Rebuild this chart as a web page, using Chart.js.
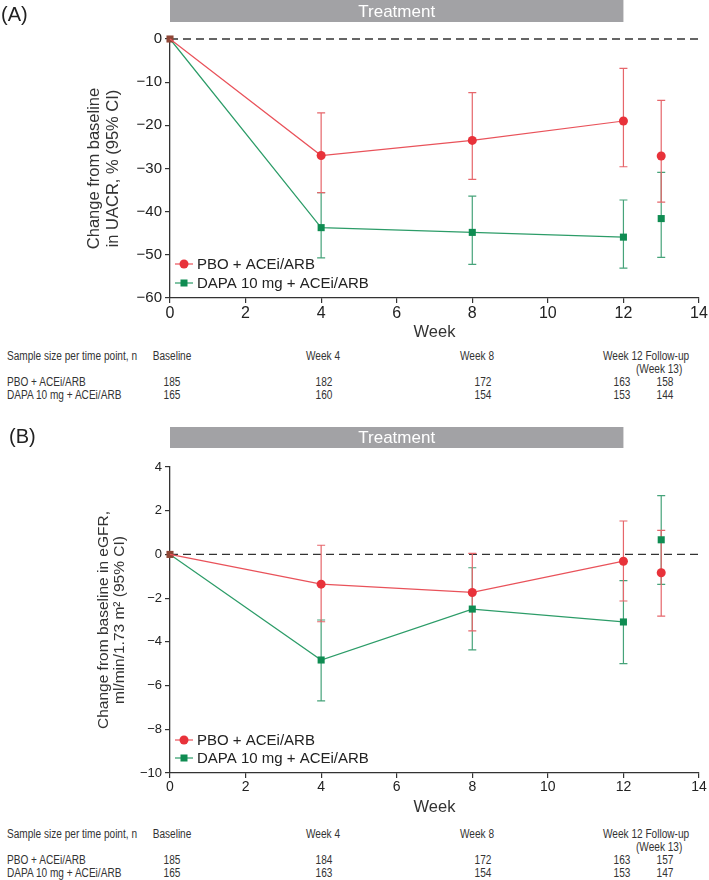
<!DOCTYPE html>
<html>
<head>
<meta charset="utf-8">
<script src="https://cdn.jsdelivr.net/npm/chart.js@4/dist/chart.umd.min.js"></script>
<style>
body { margin: 0; background: #fff; width: 709px; height: 880px; position: relative; overflow: hidden; font-family: "Liberation Sans", Arial, sans-serif; }
.box { position: absolute; left: 0; width: 709px; }
#boxA { top: 0; height: 345px; }
#boxB { top: 420px; height: 400px; }
.t { position: absolute; font-family: "Liberation Sans", Arial, sans-serif; font-size: 12px; color: #333; white-space: nowrap; line-height: 1; transform-origin: 0 50%; transform: translateY(-50%) scaleX(0.84); }
.t.c { transform-origin: 50% 50%; transform: translate(-50%, -50%) scaleX(0.84); }
</style>
</head>
<body>
<div class="box" id="boxA"><canvas id="chartA"></canvas></div>
<div class="box" id="boxB"><canvas id="chartB"></canvas></div>
<div id="tables"></div>
<script>
// time points (week 13 = follow-up, not joined by the line)
const weeks = [0, 4, 8, 12, 13];
const xTicks = [0, 2, 4, 6, 8, 10, 12, 14];

// (A) UACR, % change
const uacrTicks = [0, -10, -20, -30, -40, -50, -60];
const uacrPbo = [0, -27.0, -23.5, -19.0, -27.1];
const uacrPboLo = [null, -35.6, -32.5, -29.6, -37.8];
const uacrPboHi = [null, -17.1, -12.4, -6.8, -14.2];
const uacrDapa = [0, -43.7, -44.8, -45.9, -41.6];
const uacrDapaLo = [null, -50.7, -52.2, -53.1, -50.6];
const uacrDapaHi = [null, -35.6, -36.4, -37.3, -30.9];

// (B) eGFR change
const egfrTicks = [4, 2, 0, -2, -4, -6, -8, -10];
const egfrPbo = [0, -1.36, -1.74, -0.31, -0.84];
const egfrPboLo = [null, -3.08, -3.50, -2.13, -2.82];
const egfrPboHi = [null, 0.42, 0.05, 1.53, 1.10];
const egfrDapa = [0, -4.83, -2.50, -3.09, 0.67];
const egfrDapaLo = [null, -6.70, -4.37, -5.00, -1.37];
const egfrDapaHi = [null, -3.00, -0.61, -1.20, 2.69];

// sample sizes
const nCols = ['Baseline', 'Week 4', 'Week 8'];
const nPboA = [185, 182, 172, 163, 158];
const nDapaA = [165, 160, 154, 153, 144];
const nPboB = [185, 184, 172, 163, 157];
const nDapaB = [165, 163, 154, 153, 147];

const RED = '#e8323a', RED_LINE = '#e9525a', RED_BAR = '#e6666b';
const GREEN = '#0f8c52', GREEN_LINE = '#2c9c68', GREEN_BAR = '#46a37a';
const FONT = '"Liberation Sans", Arial, sans-serif';

function series(vals) {
    return weeks.map((w, i) => ({ x: w, y: vals[i] }));
}

function lineSet(label, vals, lo, hi, color, lineColor, barColor, style, radius) {
    const last = weeks.length - 1;
    return {
        label: label,
        data: series(vals),
        lo: lo, hi: hi, barColor: barColor,
        borderColor: lineColor,
        borderWidth: 1.2,
        backgroundColor: color,
        pointStyle: style,
        pointRadius: radius,
        pointBorderWidth: 0,
        pointBackgroundColor: color,
        tension: 0,
        clip: false,
        segment: { borderColor: c => c.p1DataIndex === last ? 'rgba(0,0,0,0)' : lineColor }
    };
}

const panelPlugin = {
    id: 'panel',
    beforeDatasetsDraw(chart, args, o) {
        const { ctx, chartArea: a, scales: { x, y } } = chart;
        ctx.save();
        const y0 = y.getPixelForValue(0);
        ctx.setLineDash([8, 5]);
        ctx.strokeStyle = '#333';
        ctx.lineWidth = 1.3;
        ctx.beginPath();
        ctx.moveTo(a.left, y0);
        ctx.lineTo(a.right, y0);
        ctx.stroke();
        ctx.setLineDash([]);

        chart.data.datasets.slice().reverse().forEach(ds => {
            ctx.strokeStyle = ds.barColor;
            ctx.lineWidth = 1.2;
            ds.data.forEach((p, i) => {
                if (ds.lo[i] == null) return;
                const px = x.getPixelForValue(p.x);
                const yl = y.getPixelForValue(ds.lo[i]);
                const yh = y.getPixelForValue(ds.hi[i]);
                ctx.beginPath();
                ctx.moveTo(px, yl); ctx.lineTo(px, yh);
                ctx.moveTo(px - 4, yl); ctx.lineTo(px + 4, yl);
                ctx.moveTo(px - 4, yh); ctx.lineTo(px + 4, yh);
                ctx.stroke();
            });
        });
        ctx.restore();
    },
    afterDraw(chart, args, o) {
        const { ctx, chartArea: a, scales: { x } } = chart;
        ctx.save();

        // treatment bar, week 0 to 12
        const bx0 = x.getPixelForValue(0), bx1 = x.getPixelForValue(12);
        ctx.fillStyle = '#a2a2a5';
        ctx.fillRect(bx0, o.barTop, bx1 - bx0, o.barH);
        ctx.fillStyle = '#fff';
        ctx.font = '17px ' + FONT;
        ctx.textAlign = 'center';
        ctx.textBaseline = 'middle';
        ctx.fillText('Treatment', (bx0 + bx1) / 2, o.barTop + o.barH / 2 + 1);

        // panel label
        ctx.fillStyle = '#222';
        ctx.font = '20px ' + FONT;
        ctx.textAlign = 'left';
        ctx.fillText(o.label, o.labelX, o.labelY);

        // week title
        ctx.font = '16.5px ' + FONT;
        ctx.textAlign = 'center';
        ctx.fillStyle = '#333';
        ctx.fillText('Week', (a.left + a.right) / 2, o.weekY);

        // y title
        ctx.font = o.yTitleSize + 'px ' + FONT;
        const cy = (a.top + a.bottom) / 2;
        o.yTitle.forEach((line, i) => {
            ctx.save();
            ctx.translate(o.yTitleX[i], cy);
            ctx.rotate(-Math.PI / 2);
            ctx.fillText(line, 0, 0);
            ctx.restore();
        });

        // legend
        ctx.font = '15px ' + FONT;
        ctx.textAlign = 'left';
        chart.data.datasets.forEach((ds, i) => {
            const ly = a.bottom + o.legendY[i];
            const mx = a.left + 14;
            ctx.strokeStyle = ds.borderColor;
            ctx.lineWidth = 1.2;
            ctx.beginPath();
            ctx.moveTo(a.left + 5, ly); ctx.lineTo(a.left + 23, ly);
            ctx.stroke();
            ctx.fillStyle = ds.backgroundColor;
            if (ds.pointStyle === 'circle') {
                ctx.beginPath(); ctx.arc(mx, ly, 4.5, 0, Math.PI * 2); ctx.fill();
            } else {
                ctx.fillRect(mx - 3.5, ly - 3.5, 7, 7);
            }
            ctx.fillStyle = '#222';
            ctx.fillText(ds.label, a.left + 27, ly + 1);
        });
        ctx.restore();
    }
};

function axisX(size, h) {
    return {
        type: 'linear', min: 0, max: 14,
        afterBuildTicks: s => { s.ticks = xTicks.map(v => ({ value: v })); },
        afterFit: s => { s.height = h; },
        ticks: { font: { size: size, family: FONT }, color: '#222', padding: 1, maxRotation: 0, autoSkip: false },
        grid: { drawOnChartArea: false, tickLength: 5, color: '#333', lineWidth: 1.2 },
        border: { color: '#333', width: 1.3 }
    };
}

function axisY(size, min, max, ticks) {
    return {
        type: 'linear', min: min, max: max,
        afterBuildTicks: s => { s.ticks = ticks.map(v => ({ value: v })); },
        afterFit: s => { s.width = 170; },
        ticks: {
            font: { size: size, family: FONT }, color: '#222', padding: 3,
            callback: v => String(v).replace('-', '\u2212')
        },
        grid: { drawOnChartArea: false, tickLength: 5, color: '#333', lineWidth: 1.2 },
        border: { color: '#333', width: 1.3 }
    };
}

function createChart(canvasId, cfg) {
    const pbo = lineSet('PBO + ACEi/ARB', cfg.pbo, cfg.pboLo, cfg.pboHi, RED, RED_LINE, RED_BAR, 'circle', 4.5);
    pbo.pointRadius = weeks.map((w, i) => i === 0 ? 0 : 4.5);
    const dapa = lineSet('DAPA 10 mg + ACEi/ARB', cfg.dapa, cfg.dapaLo, cfg.dapaHi, GREEN, GREEN_LINE, GREEN_BAR, 'rect', 5);
    dapa.pointBackgroundColor = weeks.map((w, i) => i === 0 ? '#8e4636' : GREEN);

    return new Chart(document.getElementById(canvasId), {
        type: 'line',
        data: { datasets: [pbo, dapa] },
        options: {
            responsive: true,
            maintainAspectRatio: false,
            animation: false,
            layout: { padding: { top: cfg.padTop, right: 10, left: 0, bottom: 0 } },
            plugins: {
                legend: { display: false },
                tooltip: { enabled: false },
                panel: cfg.panel
            },
            scales: {
                x: axisX(cfg.xSize, cfg.xH),
                y: axisY(cfg.ySize, cfg.min, cfg.max, cfg.ticks)
            }
        },
        plugins: [panelPlugin]
    });
}

createChart('chartA', {
    pbo: uacrPbo, pboLo: uacrPboLo, pboHi: uacrPboHi,
    dapa: uacrDapa, dapaLo: uacrDapaLo, dapaHi: uacrDapaHi,
    min: -60, max: 0, ticks: uacrTicks,
    padTop: 39, xH: 47, xSize: 16, ySize: 15,
    panel: {
        label: '(A)', labelX: 1, labelY: 15, barTop: 0, barH: 22, weekY: 332,
        yTitle: ['Change from baseline', 'in UACR, % (95% CI)'], yTitleX: [94, 113], yTitleSize: 16.5,
        legendY: [-34, -15]
    }
});

createChart('chartB', {
    pbo: egfrPbo, pboLo: egfrPboLo, pboHi: egfrPboHi,
    dapa: egfrDapa, dapaLo: egfrDapaLo, dapaHi: egfrDapaHi,
    min: -10, max: 4, ticks: egfrTicks,
    padTop: 47, xH: 47, xSize: 14, ySize: 13,
    panel: {
        label: '(B)', labelX: 9, labelY: 17, barTop: 7, barH: 21, weekY: 387,
        yTitle: ['Change from baseline in eGFR,', 'ml/min/1.73 m\u00b2 (95% CI)'], yTitleX: [104, 120], yTitleSize: 15.5,
        legendY: [-33, -15]
    }
});

// sample size tables
function addText(text, x, y, center) {
    const d = document.createElement('div');
    d.className = 't' + (center ? ' c' : '');
    d.textContent = text;
    d.style.left = x + 'px';
    d.style.top = y + 'px';
    document.getElementById('tables').appendChild(d);
}

function buildTable(top, nPbo, nDapa) {
    const headX = [172, 323, 477];
    const numX = [172, 324, 483, 622, 665];
    addText('Sample size per time point, n', 7, top);
    nCols.forEach((c, i) => addText(c, headX[i], top, true));
    addText('Week 12 Follow-up', 603, top);
    addText('(Week 13)', 636, top + 13);
    addText('PBO + ACEi/ARB', 7, top + 26);
    addText('DAPA 10 mg + ACEi/ARB', 7, top + 39);
    nPbo.forEach((v, i) => addText(v, numX[i], top + 26, true));
    nDapa.forEach((v, i) => addText(v, numX[i], top + 39, true));
}

buildTable(356, nPboA, nDapaA);
buildTable(834, nPboB, nDapaB);
</script>
</body>
</html>
